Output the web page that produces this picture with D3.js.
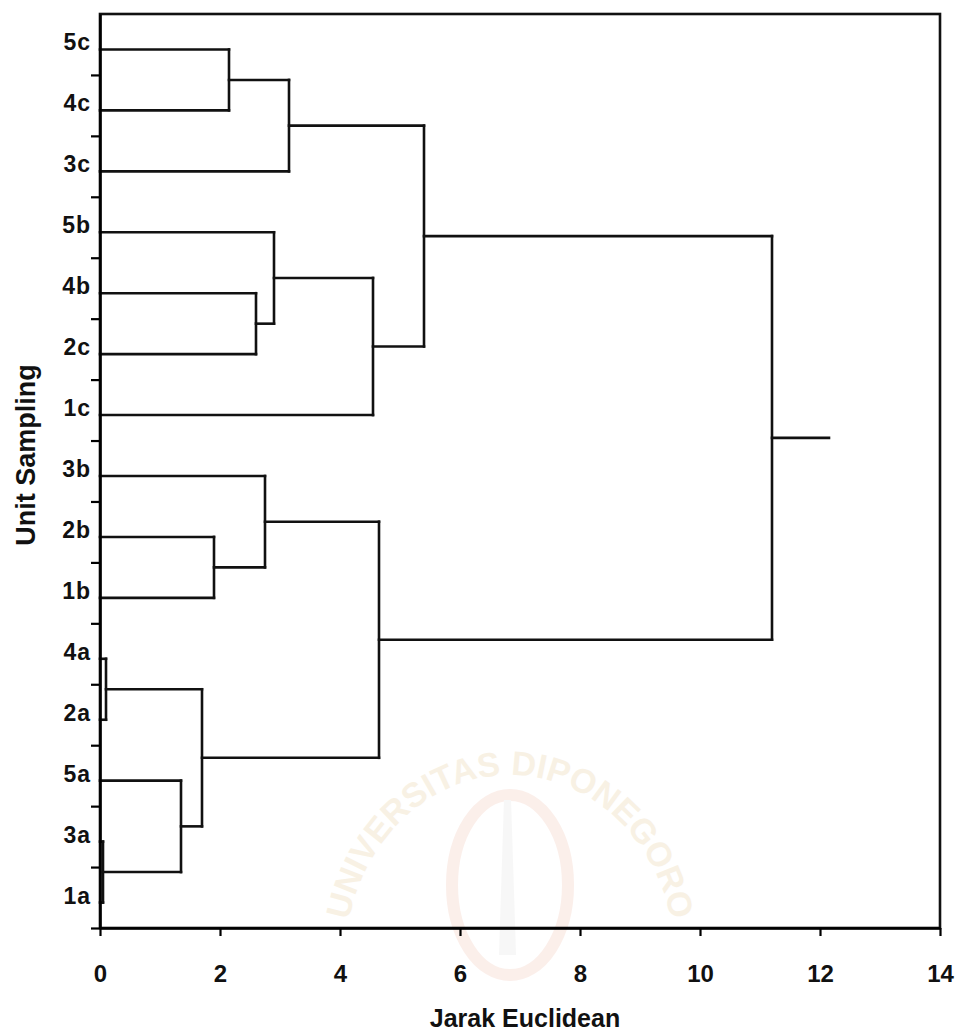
<!DOCTYPE html>
<html>
<head>
<meta charset="utf-8">
<script src="https://cdn.jsdelivr.net/npm/d3@7"></script>
<style>
  body { margin: 0; background: #fff; }
  text { font-family: "Liberation Sans", Arial, sans-serif; fill: #111; }
</style>
</head>
<body>
<div id="chart"></div>
<script>
// leaves, top to bottom
const leaves = ["5c","4c","3c","5b","4b","2c","1c","3b","2b","1b","4a","2a","5a","3a","1a"];
// linkage: cluster kN joins mergeA[N-1] and mergeB[N-1] at mergeHeight[N-1]
const mergeA = ["5c","k1","4b","5b","k4","k2","2b","3b","4a","3a","5a","k9","k8","k6"];
const mergeB = ["4c","3c","2c","k3","1c","k5","1b","k7","2a","1a","k10","k11","k12","k13"];
const mergeHeight = [2.15, 3.15, 2.6, 2.9, 4.55, 5.4, 1.9, 2.75, 0.1, 0.05, 1.35, 1.7, 4.65, 11.2];
const rootStub = 12.15;
const xTicks = [0, 2, 4, 6, 8, 10, 12, 14];

const width = 955, height = 1035;
const plotL = 100, plotR = 940, plotT = 14, plotB = 928;

const svg = d3.select("#chart").append("svg")
  .attr("width", width)
  .attr("height", height);

// faint watermark of the scanned page
const wm = svg.append("g").attr("opacity", 0.45);
wm.append("path")
  .attr("id", "wmArc")
  .attr("d", "M 345,960 A 165,185 0 1,1 675,960")
  .attr("fill", "none");
wm.append("text")
  .style("font-size", "34px")
  .style("font-weight", "bold")
  .style("fill", "#f0e2c4")
  .append("textPath")
  .attr("href", "#wmArc")
  .attr("startOffset", "50%")
  .attr("text-anchor", "middle")
  .text("UNIVERSITAS DIPONEGORO");
wm.append("ellipse")
  .attr("cx", 510).attr("cy", 885).attr("rx", 58).attr("ry", 90)
  .attr("fill", "none").attr("stroke", "#f8dcd2").attr("stroke-width", 12);
wm.append("path")
  .attr("d", "M 504,800 L 511,800 L 516,955 L 499,955 Z")
  .attr("fill", "#eeeeee");

const x = d3.scaleLinear().domain([0, 14]).range([plotL, plotR]);
const y = d3.scaleBand().domain(leaves).range([plotT, plotB]);
const yIdx = d3.scaleLinear().domain([0, leaves.length]).range([plotT, plotB]);

// node positions
const pos = {};
leaves.forEach(d => { pos[d] = { x: x(0), y: y(d) + y.bandwidth() / 2 + 5 }; });

const segs = [];
mergeHeight.forEach((h, i) => {
  const a = pos[mergeA[i]], b = pos[mergeB[i]];
  const xm = x(h);
  segs.push([a.x, a.y, xm, a.y]);
  segs.push([b.x, b.y, xm, b.y]);
  segs.push([xm, a.y, xm, b.y]);
  pos["k" + (i + 1)] = { x: xm, y: (a.y + b.y) / 2 };
});
const root = pos["k" + mergeHeight.length];
segs.push([root.x, root.y, x(rootStub), root.y]);

svg.append("g").selectAll("line")
  .data(segs)
  .enter().append("line")
  .attr("x1", d => d[0]).attr("y1", d => d[1])
  .attr("x2", d => d[2]).attr("y2", d => d[3])
  .attr("stroke", "#111")
  .attr("stroke-width", 2.6)
  .attr("stroke-linecap", "square");

// frame
svg.append("rect")
  .attr("x", plotL).attr("y", plotT)
  .attr("width", plotR - plotL).attr("height", plotB - plotT)
  .attr("fill", "none")
  .attr("stroke", "#111")
  .attr("stroke-width", 2.6);

// x axis
const xAxis = svg.append("g")
  .attr("transform", "translate(0," + plotB + ")")
  .call(d3.axisBottom(x).tickValues(xTicks).tickSize(8).tickSizeOuter(0).tickPadding(29));
xAxis.select(".domain").attr("stroke-width", 2.6);
xAxis.selectAll(".tick line").attr("stroke-width", 2.2);
xAxis.selectAll("text")
  .style("font-size", "24px")
  .style("font-weight", "bold")
  .attr("fill", "#111");

// y axis ticks on band boundaries
const yAxis = svg.append("g")
  .attr("transform", "translate(" + plotL + ",0)")
  .call(d3.axisLeft(yIdx).tickValues(d3.range(1, leaves.length + 1)).tickSize(9).tickSizeOuter(0));
yAxis.selectAll(".tick text").remove();
yAxis.select(".domain").attr("stroke-width", 2.6);
yAxis.selectAll(".tick line").attr("stroke-width", 2.2);

// leaf labels
svg.append("g").selectAll("text")
  .data(leaves)
  .enter().append("text")
  .attr("x", 91)
  .attr("y", d => y(d) + y.bandwidth() / 2 - 2)
  .attr("text-anchor", "end")
  .attr("dominant-baseline", "central")
  .style("font-size", "23px")
  .style("font-weight", "bold")
  .style("letter-spacing", "1px")
  .text(d => d);

// axis titles
svg.append("text")
  .attr("x", 525)
  .attr("y", 1027)
  .attr("text-anchor", "middle")
  .style("font-size", "25px")
  .style("font-weight", "bold")
  .text("Jarak Euclidean");

svg.append("text")
  .attr("transform", "translate(35,455) rotate(-90)")
  .attr("text-anchor", "middle")
  .style("font-size", "27px")
  .style("font-weight", "bold")
  .text("Unit Sampling");
</script>
</body>
</html>
